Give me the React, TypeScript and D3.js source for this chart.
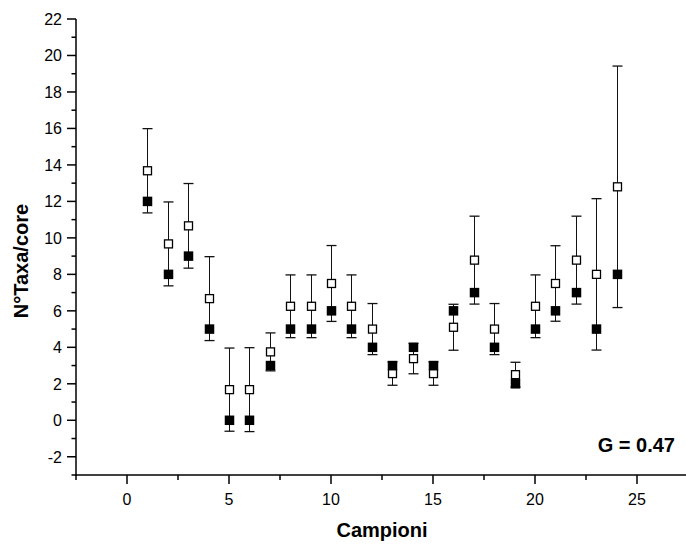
import React from "react";
import * as d3 from "d3";

const samples = [1,2,3,4,5,6,7,8,9,10,11,12,13,14,15,16,17,18,19,20,21,22,23,24];
const observed = [12,8,9,5,0,0,3,5,5,6,5,4,3,4,3,6,7,4,2,5,6,7,5,8];
const expected = [13.68,9.67,10.66,6.67,1.68,1.68,3.75,6.25,6.25,7.5,6.25,5.0,2.56,3.38,2.56,5.1,8.78,5.0,2.5,6.25,7.5,8.78,8.0,12.8];
const sd = [2.31,2.3,2.32,2.3,2.28,2.3,1.04,1.72,1.72,2.08,1.72,1.4,0.64,0.83,0.64,1.26,2.41,1.4,0.68,1.72,2.07,2.41,4.15,6.62];
const yTicks = [-2,0,2,4,6,8,10,12,14,16,18,20,22];
const yMinor = [-3,-1,1,3,5,7,9,11,13,15,17,19,21];
const xTicks = [0,5,10,15,20,25];
const xMinor = [-2.5,2.5,7.5,12.5,17.5,22.5];

export default function App() {
  const W = 686, H = 545;
  const x = d3.scaleLinear().domain([-2.5, 27.5]).range([76, 688]);
  const y = d3.scaleLinear().domain([-3, 22]).range([475, 19]);
  const font = "'Liberation Sans', Arial, sans-serif";
  const px = (v: number) => Math.round(x(v)) + 0.5;
  return (
    <svg width={W} height={H} style={{ position: "absolute", left: 0, top: 0, background: "#fff" }} fontFamily={font}>
      <line x1={76} x2={76} y1={y(22)} y2={y(-3) + 0.75} stroke="#000" strokeWidth={1.5} />
      <line x1={75.25} x2={W} y1={475} y2={475} stroke="#000" strokeWidth={1.5} />
      {yTicks.map((t) => (
        <g key={"y" + t}>
          <line x1={67} x2={76} y1={y(t)} y2={y(t)} stroke="#000" strokeWidth={1.5} />
          <text x={62} y={y(t)} dy="0.36em" textAnchor="end" fontSize={16}>{t}</text>
        </g>
      ))}
      {yMinor.map((t) => (
        <line key={"ym" + t} x1={71.5} x2={76} y1={y(t)} y2={y(t)} stroke="#000" strokeWidth={1.5} />
      ))}
      {xTicks.map((t) => (
        <g key={"x" + t}>
          <line x1={x(t)} x2={x(t)} y1={475} y2={484} stroke="#000" strokeWidth={1.5} />
          <text x={x(t)} y={504.5} textAnchor="middle" fontSize={16}>{t}</text>
        </g>
      ))}
      {xMinor.map((t) => (
        <line key={"xm" + t} x1={x(t)} x2={x(t)} y1={475} y2={480} stroke="#000" strokeWidth={1.5} />
      ))}
      {samples.map((s, i) => {
        const cx = px(s);
        const top = y(expected[i] + sd[i]);
        const bot = y(expected[i] - sd[i]);
        return (
          <g key={"d" + s}>
            <line x1={cx} x2={cx} y1={top} y2={bot} stroke="#111" strokeWidth={1} />
            <line x1={cx - 5} x2={cx + 5} y1={top} y2={top} stroke="#111" strokeWidth={1.3} />
            <line x1={cx - 5} x2={cx + 5} y1={bot} y2={bot} stroke="#111" strokeWidth={1.3} />
            <rect x={cx - 4} y={y(expected[i]) - 4} width={8} height={8} fill="#fff" stroke="#000" strokeWidth={1.3} />
            <rect x={cx - 4.75} y={y(observed[i]) - 4.75} width={9.5} height={9.5} fill="#000" />
          </g>
        );
      })}
      <text x={675} y={452} textAnchor="end" fontSize={20} fontWeight="bold">G = 0.47</text>
      <text x={x(12.5)} y={537} textAnchor="middle" fontSize={20} fontWeight="bold">Campioni</text>
      <text transform="translate(28,261) rotate(-90)" textAnchor="middle" fontSize={20} fontWeight="bold">N°Taxa/core</text>
    </svg>
  );
}
